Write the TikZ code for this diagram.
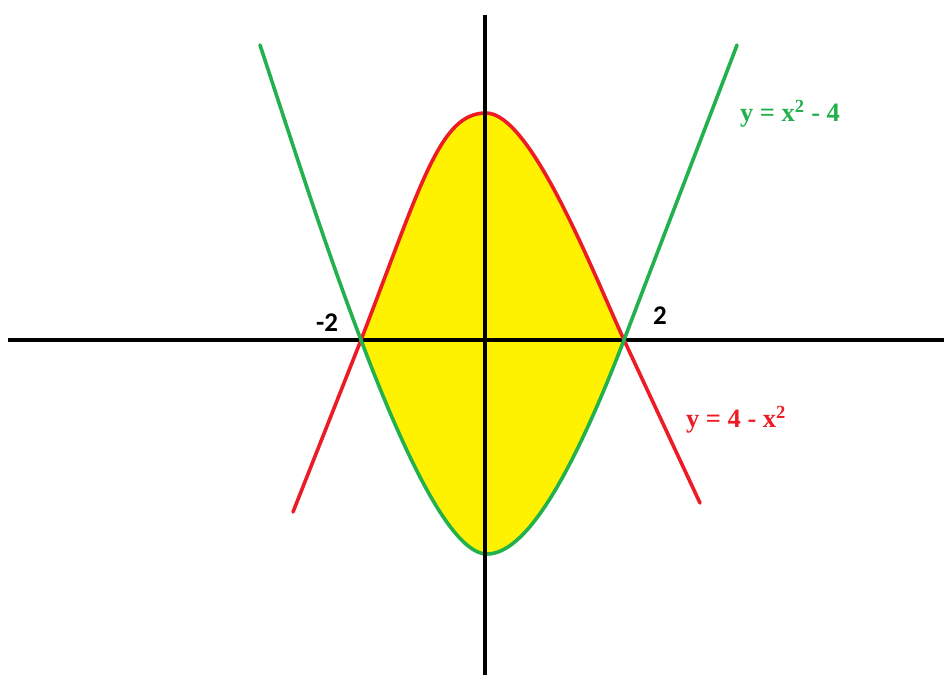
\documentclass[tikz,border=0pt]{standalone}
\usepackage{fontspec}
\setmainfont{Liberation Serif}
\newfontfamily\numfont{Carlito}
\definecolor{pgreen}{RGB}{34,177,76}
\definecolor{pred}{RGB}{237,28,36}
\definecolor{pyellow}{RGB}{255,242,0}
\begin{document}
\begin{tikzpicture}[x=1pt,y=-1pt,
  axis/.style={line width=4pt,black},
  curve/.style={line width=3.6pt,line join=round,line cap=round},
  eqlabel/.style={font=\fontsize{26.5}{30}\selectfont\bfseries,inner sep=0pt},
  numlabel/.style={font=\numfont\fontsize{27}{30}\selectfont\bfseries,inner sep=0pt}]
\useasboundingbox (0,0) rectangle (944,675);
% key points
\coordinate (A) at (361,340);   % x = -2
\coordinate (B) at (624,340);   % x = 2
\coordinate (RT) at (486,113);  % top of red
\coordinate (GB) at (487,554);  % bottom of green
\coordinate (R1) at (293,512);
\coordinate (R2) at (700,503);
\coordinate (G1) at (260,45);
\coordinate (G2) at (737,45);
% shaded region
\fill[pyellow] (A) .. controls (422,182) and (440,113) .. (RT)
  .. controls (530,113) and (590,265) .. (B)
  .. controls (569,483) and (524,554) .. (GB)
  .. controls (457,554) and (415,483) .. (A) -- cycle;
% horizontal axis
\coordinate (hl) at (8,340);
\coordinate (hr) at (944,340);
\draw[axis] (hl) -- (hr);
% curves
\draw[curve,pred] (R1) -- (A) .. controls (422,182) and (440,113) .. (RT)
  .. controls (530,113) and (590,265) .. (B) -- (R2);
\draw[curve,pgreen] (G1) .. controls (293,145) and (323,240) .. (A)
  .. controls (415,483) and (457,554) .. (GB)
  .. controls (524,554) and (569,483) .. (B)
  .. controls (662,240) and (718,95) .. (G2);
% vertical axis
\coordinate (vt) at (485,15);
\coordinate (vb) at (485,675);
\draw[axis] (vt) -- (vb);
% labels
\node[numlabel] (m2) at (327,323) {-2};
\node[numlabel] (p2) at (660,316) {2};
\node[eqlabel,pgreen] (lg) at (790,114) {y = x\textsuperscript{2} - 4};
\node[eqlabel,pred] (lr) at (736,420) {y = 4 - x\textsuperscript{2}};
\end{tikzpicture}
\end{document}
